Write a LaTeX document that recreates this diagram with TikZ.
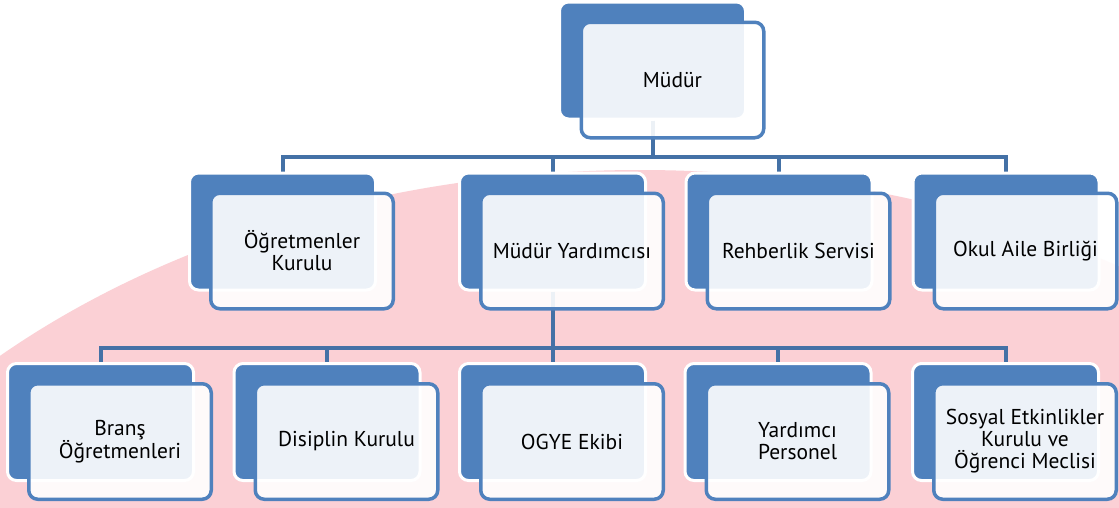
\documentclass[tikz,border=0pt]{standalone}
\usepackage{fontspec}
\setmainfont{PT Sans}
\definecolor{boxblue}{RGB}{79,129,189}
\definecolor{linkblue}{RGB}{68,113,166}
\definecolor{flagpink}{RGB}{251,208,213}
\pgfdeclarelayer{wm}
\pgfdeclarelayer{links}
\pgfsetlayers{wm,links,main}
\tikzset{
  backbox/.style={rectangle, rounded corners=9pt, fill=boxblue, draw=white,
    line width=3pt, minimum width=186pt, minimum height=117pt, inner sep=0pt},
  frontbox/.style={rectangle, rounded corners=9pt, fill=white, fill opacity=0.9,
    text opacity=1, draw=boxblue, line width=3.5pt, minimum width=182.5pt,
    minimum height=115.5pt, inner sep=0pt, align=center,
    font=\fontsize{21.5}{22}\selectfont},
  link/.style={draw=linkblue, line width=4pt}
}
\begin{document}
\begin{tikzpicture}[x=1pt,y=-1pt]
\useasboundingbox (0,0) rectangle (1119,507);
%
\begin{pgfonlayer}{wm}
\fill[white] (0,0) rectangle (1119,507);
\begin{scope}
\clip (0,0) rectangle (1119,507);
\fill[flagpink] (640,830) ellipse [x radius=920pt, y radius=660pt];
\end{scope}
\end{pgfonlayer}
%
% top
\node[backbox] (mudur-b) at (652.5,60.5) {};
\node[frontbox] (mudur) at ([shift={(20,19.5)}]mudur-b.center) {Müdür};
%
% second row
\foreach \n/\x/\t in {ogr/282.5/{Öğretmenler\\Kurulu}, myrd/552.5/{Müdür Yardımcısı},
  reh/779/{Rehberlik Servisi}, oab/1006/{Okul Aile Birliği}}{
  \node[backbox] (\n-b) at (\x,231.5) {};
  \node[frontbox] (\n) at ([shift={(19.5,19.5)}]\n-b.center) {\t};
}
%
% third row
\foreach \n/\x/\t in {brans/100.5/{Branş\\Öğretmenleri}, disiplin/327/{Disiplin Kurulu},
  ogye/552.5/{OGYE Ekibi}, yrd/778/{Yardımcı\\Personel},
  sosyal/1005.5/{Sosyal Etkinlikler\\Kurulu ve\\Öğrenci Meclisi}}{
  \node[backbox] (\n-b) at (\x,422) {};
  \node[frontbox] (\n) at ([shift={(19.5,19.5)}]\n-b.center) {\t};
}
%
\begin{pgfonlayer}{links}
\foreach \n in {ogr,myrd,reh,oab}
\draw[link] (mudur-b.south) -- ++(0,36) -| (\n-b.north);
\foreach \n in {brans,disiplin,ogye,yrd,sosyal}
\draw[link] (myrd-b.south) -- ++(0,56) -| (\n-b.north);
\end{pgfonlayer}
\end{tikzpicture}
\end{document}
